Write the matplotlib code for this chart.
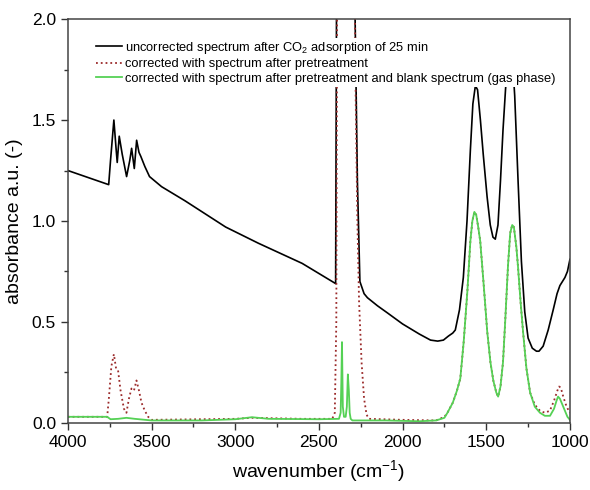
import matplotlib
matplotlib.use('Agg')
import matplotlib.pyplot as plt

plt.rcParams['font.family'] = ['Liberation Sans', 'DejaVu Sans']
plt.rcParams['mathtext.default'] = 'regular'

# uncorrected spectrum (black)
wn_black = [4000, 3756, 3745, 3725, 3712, 3705, 3693, 3675, 3649, 3630, 3619, 3603, 3589, 3575, 3564,
            3540, 3512, 3440, 3300, 3057, 2862, 2600, 2400, 2393, 2292, 2270, 2255, 2230, 2210,
            2150, 2091, 2000, 1900, 1833, 1790, 1756, 1726, 1700, 1685, 1660, 1637, 1615, 1595,
            1580, 1565, 1552, 1535, 1518, 1495, 1476, 1460, 1446, 1430, 1415, 1400, 1385, 1370,
            1355, 1345, 1330, 1310, 1290, 1270, 1250, 1225, 1200, 1185, 1160, 1130, 1100, 1077,
            1060, 1045, 1030, 1015, 1005, 1000]
abs_black = [1.25, 1.18, 1.30, 1.50, 1.36, 1.29, 1.42, 1.33, 1.22, 1.30, 1.36, 1.26, 1.40, 1.34, 1.32,
             1.27, 1.22, 1.17, 1.10, 0.97, 0.89, 0.79, 0.69, 2.5, 2.5, 1.2, 0.70, 0.64, 0.62,
             0.58, 0.545, 0.49, 0.44, 0.41, 0.405, 0.41, 0.43, 0.445, 0.46, 0.56, 0.72, 1.0, 1.35,
             1.58, 1.67, 1.65, 1.50, 1.33, 1.12, 0.98, 0.92, 0.91, 0.98, 1.20, 1.45, 1.65, 1.82,
             1.86, 1.82, 1.62, 1.20, 0.80, 0.55, 0.42, 0.37, 0.355, 0.355, 0.38, 0.46, 0.56, 0.64,
             0.68, 0.70, 0.72, 0.75, 0.79, 0.81]

# corrected with pretreatment spectrum (red dotted)
wn_red = [4000, 3765, 3755, 3740, 3725, 3712, 3700, 3685, 3665, 3650, 3635, 3620, 3605, 3590, 3575,
          3560, 3540, 3520, 3500, 3000, 2900, 2600, 2420, 2405, 2396, 2390, 2290, 2280, 2270,
          2260, 2245, 2230, 2215, 2200, 2000, 1800, 1750, 1732, 1700, 1675, 1655, 1635, 1613,
          1595, 1583, 1571, 1560, 1548, 1536, 1515, 1494, 1475, 1458, 1440, 1429, 1415, 1400,
          1387, 1370, 1357, 1345, 1335, 1320, 1310, 1295, 1280, 1260, 1238, 1210, 1179, 1150,
          1120, 1095, 1075, 1065, 1055, 1040, 1020, 1000]
abs_red = [0.03, 0.03, 0.12, 0.28, 0.34, 0.27, 0.26, 0.16, 0.07, 0.05, 0.12, 0.17, 0.16, 0.21, 0.16,
           0.10, 0.06, 0.03, 0.015, 0.02, 0.025, 0.02, 0.02, 0.05, 0.5, 2.5, 2.5, 1.6, 1.0,
           0.6, 0.3, 0.12, 0.04, 0.02, 0.015, 0.012, 0.03, 0.05, 0.10, 0.16, 0.22, 0.40, 0.65,
           0.90, 1.0, 1.045, 1.03, 0.97, 0.90, 0.68, 0.45, 0.30, 0.21, 0.15, 0.13, 0.18, 0.30,
           0.50, 0.78, 0.94, 0.98, 0.97, 0.87, 0.77, 0.60, 0.45, 0.27, 0.15, 0.09, 0.06, 0.05,
           0.06, 0.11, 0.16, 0.18, 0.175, 0.13, 0.08, 0.05]

# corrected with pretreatment and gas phase blank (green)
wn_green = [4000, 3765, 3745, 3700, 3650, 3600, 3500, 3200, 3000, 2900, 2800, 2500, 2380, 2370,
            2366, 2362, 2357, 2350, 2340, 2333, 2327, 2321, 2316, 2310, 2300, 2100, 1900, 1800,
            1750, 1732, 1700, 1675, 1655, 1635, 1613, 1595, 1583, 1571, 1560, 1548, 1536, 1515,
            1494, 1475, 1458, 1440, 1429, 1415, 1400, 1387, 1370, 1357, 1345, 1335, 1320, 1310,
            1295, 1280, 1260, 1238, 1210, 1179, 1150, 1119, 1095, 1080, 1071, 1060, 1045, 1030,
            1015, 1000]
abs_green = [0.03, 0.03, 0.018, 0.02, 0.025, 0.02, 0.012, 0.012, 0.018, 0.028, 0.02, 0.018, 0.02, 0.05,
             0.20, 0.40, 0.08, 0.03, 0.03, 0.08, 0.24, 0.16, 0.05, 0.02, 0.012, 0.012, 0.008, 0.012,
             0.025, 0.05, 0.10, 0.16, 0.22, 0.40, 0.65, 0.90, 1.0, 1.045, 1.03, 0.97, 0.90, 0.68,
             0.45, 0.30, 0.21, 0.15, 0.13, 0.18, 0.30, 0.50, 0.78, 0.94, 0.98, 0.97, 0.87, 0.77,
             0.60, 0.45, 0.27, 0.15, 0.08, 0.05, 0.035, 0.035, 0.07, 0.11, 0.13, 0.12, 0.09, 0.06,
             0.03, 0.015]

fig = plt.figure(figsize=(5.9, 4.9), dpi=100)
ax = fig.add_axes([0.115, 0.137, 0.851, 0.824])

ax.plot(wn_black, abs_black, color='black', lw=1.2,
        label='uncorrected spectrum after CO$_2$ adsorption of 25 min')
ax.plot(wn_red, abs_red, color='#9b2a2a', lw=1.3, ls=':',
        label='corrected with spectrum after pretreatment')
ax.plot(wn_green, abs_green, color='#55d155', lw=1.3,
        label='corrected with spectrum after pretreatment and blank spectrum (gas phase)')

ax.set_xlim(4000, 1000)
ax.set_ylim(0, 2.0)
ax.set_xticks([4000, 3500, 3000, 2500, 2000, 1500, 1000])
ax.set_xticks([3750, 3250, 2750, 2250, 1750, 1250], minor=True)
ax.set_yticks([0.0, 0.5, 1.0, 1.5, 2.0])
ax.set_yticks([0.25, 0.75, 1.25, 1.75], minor=True)
ax.set_yticklabels(['0.0', '0.5', '1.0', '1.5', '2.0'])
ax.tick_params(which='major', direction='out', length=5, width=1, labelsize=12.5, color='#333333')
ax.tick_params(which='minor', direction='out', length=3, width=1, color='#333333')
for s in ax.spines.values():
    s.set_color('#444444')
    s.set_linewidth(1.1)

ax.set_xlabel('wavenumber (cm$^{-1}$)', fontsize=14, labelpad=6)
ax.set_ylabel('absorbance a.u. (-)', fontsize=14, labelpad=6)

leg = ax.legend(loc='upper left', bbox_to_anchor=(0.04, 0.97), fontsize=9.3, frameon=True,
                fancybox=False, edgecolor='none', facecolor='white', framealpha=1,
                handlelength=2.0, handletextpad=0.25, labelspacing=0.2, borderpad=0.15)

fig.savefig('out.png', dpi=100)
